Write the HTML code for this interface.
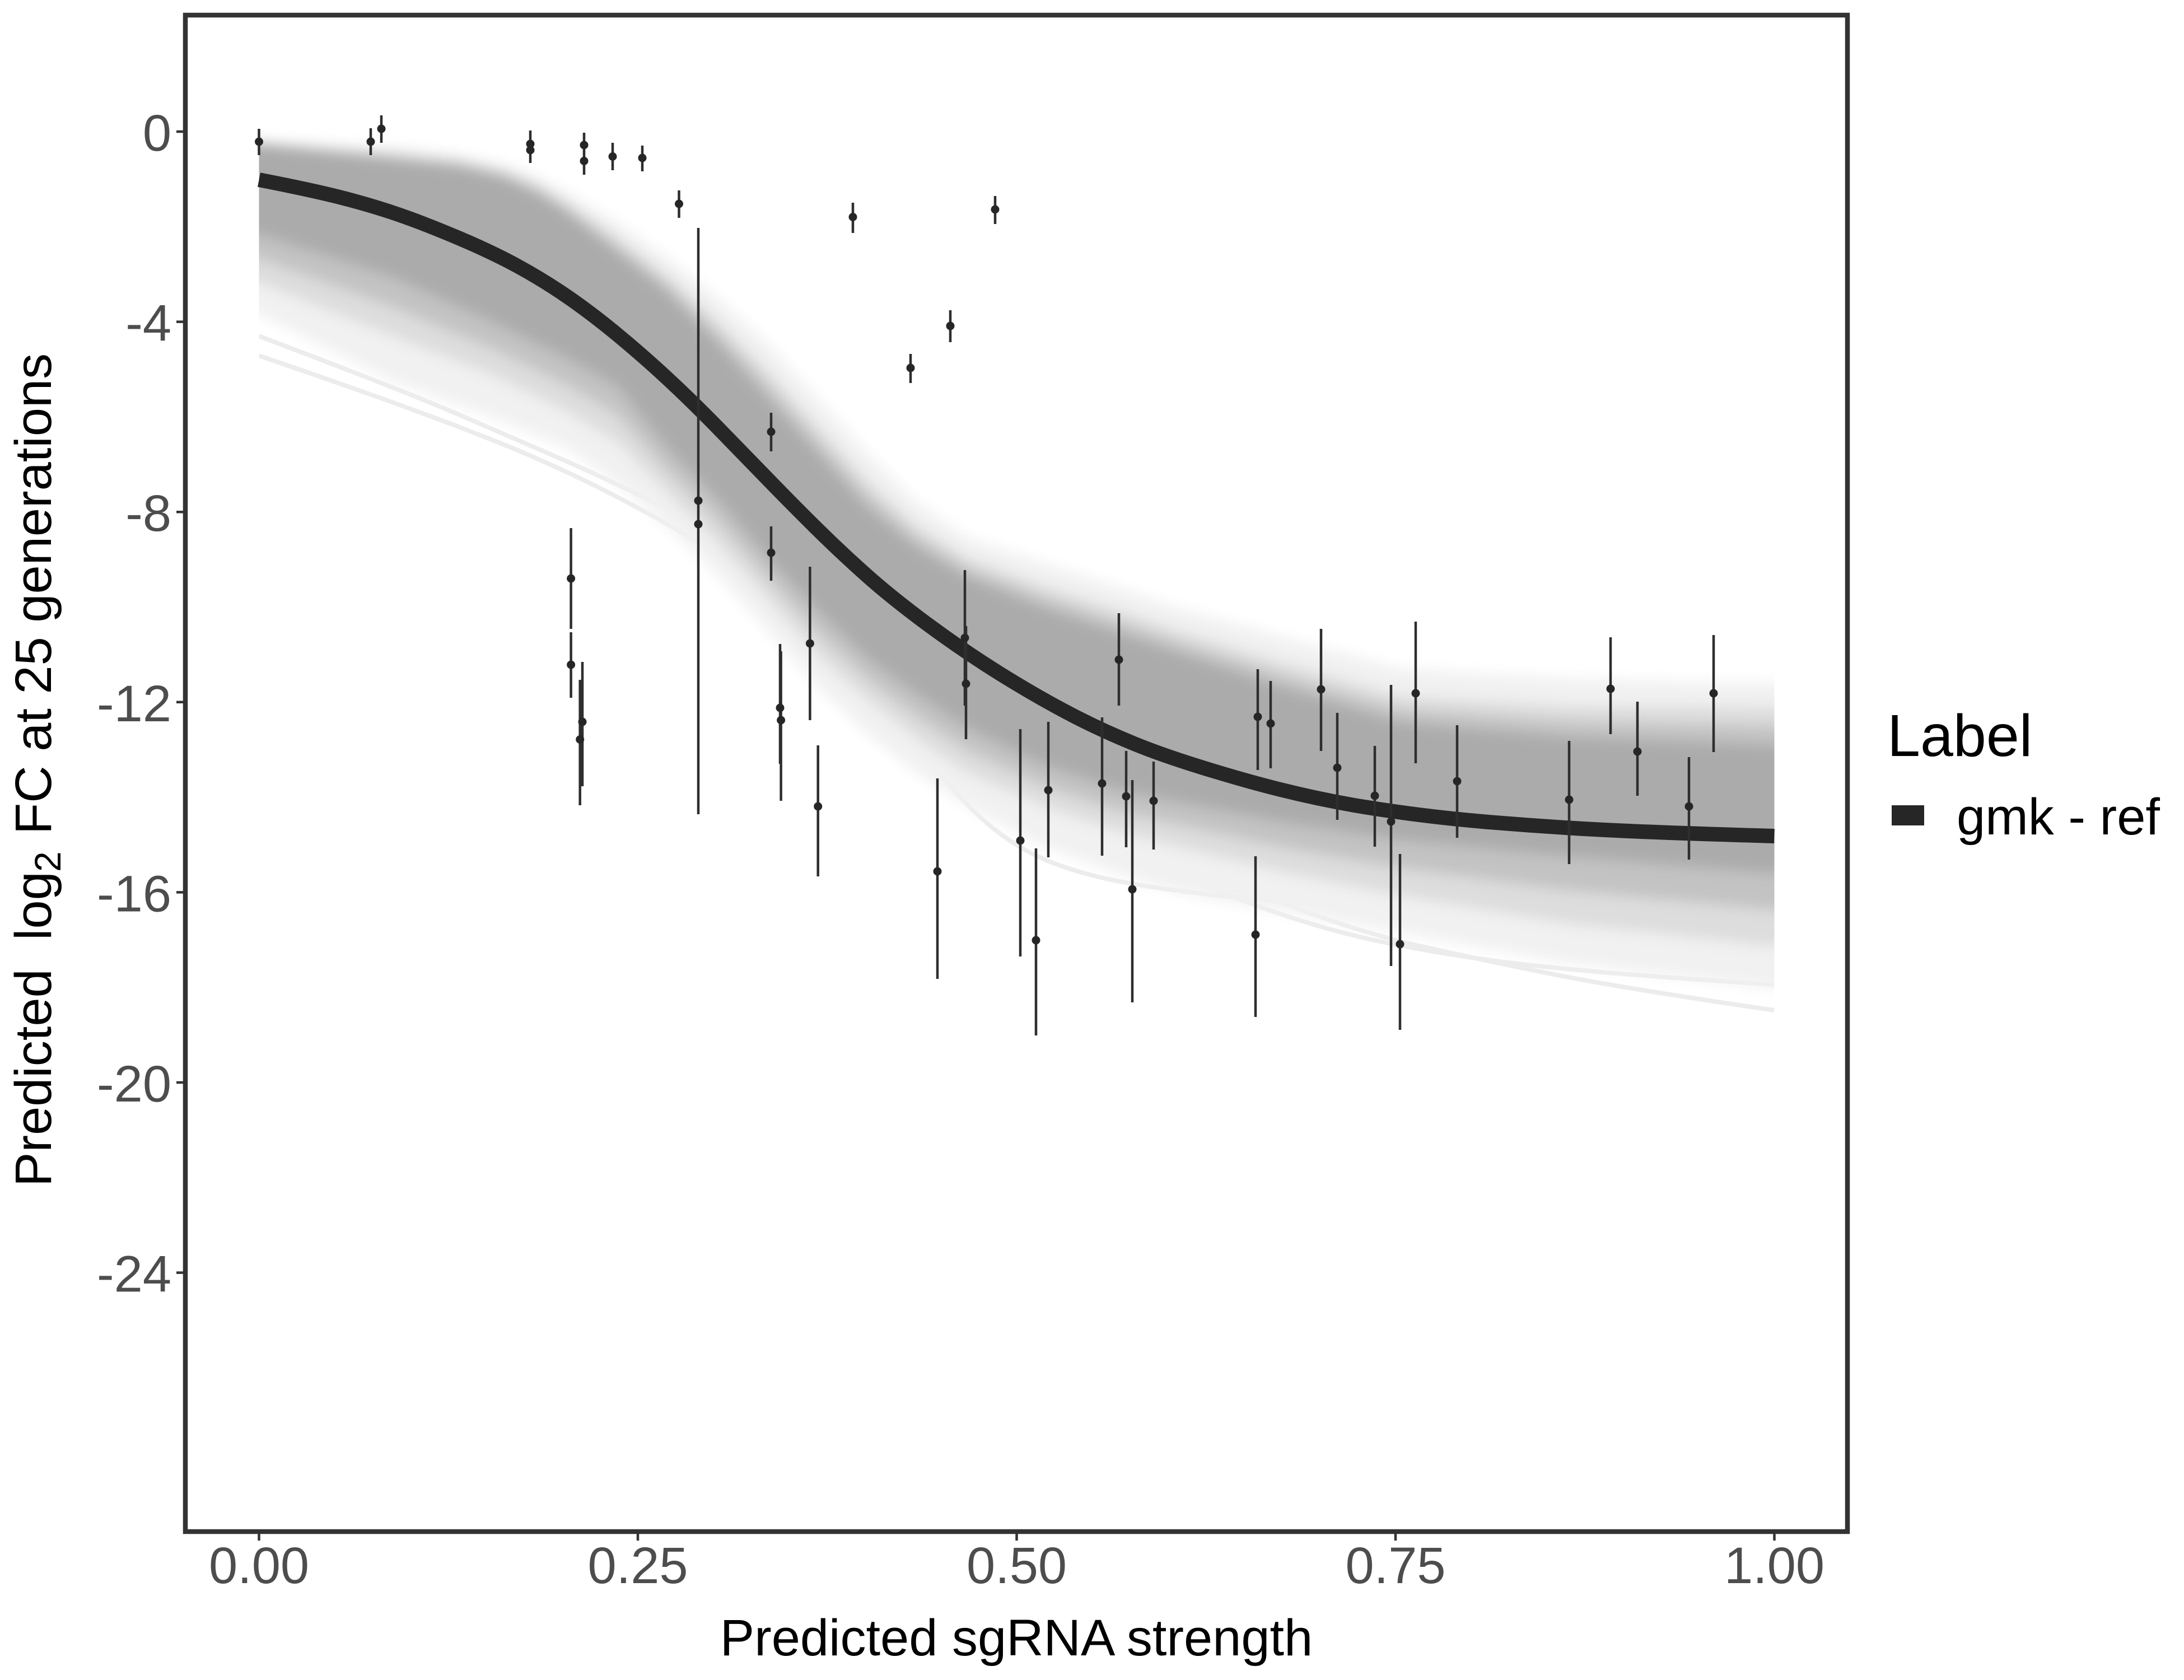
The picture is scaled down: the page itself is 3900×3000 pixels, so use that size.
<!DOCTYPE html>
<html>
<head>
<meta charset="utf-8">
<style>
  html, body { margin: 0; padding: 0; background: #ffffff; }
  svg { display: block; }
  text { font-family: "Liberation Sans", "DejaVu Sans", sans-serif; }
</style>
</head>
<body>
<svg xmlns="http://www.w3.org/2000/svg" width="3900" height="3000" viewBox="0 0 3900 3000">
  <rect x="0" y="0" width="3900" height="3000" fill="#ffffff"/>
  <defs>
    <clipPath id="bandclip"><rect x="462.5" y="27" width="2706" height="2708"/></clipPath>
    <filter id="soft" x="-5%" y="-5%" width="110%" height="110%">
      <feGaussianBlur stdDeviation="12"/>
    </filter>
  </defs>

  <g clip-path="url(#bandclip)">
    <g fill="none" stroke="#ECECEC" stroke-width="8" stroke-linejoin="round">
      <path d="M462,600 Q700,690 800,732 Q900,775 978,809 Q1057,843 1153,889 Q1250,935 1350,992 Q1450,1050 1550,1125 Q1650,1200 1750,1275 Q1850,1350 1950,1410 Q2050,1470 2175,1515 Q2300,1560 2450,1590 Q2600,1620 3168,1660"/>
      <path d="M1300,990 Q1450,1120 1499,1173 Q1548,1227 1599,1288 Q1650,1350 1710,1418 Q1771,1486 1835,1520 Q1900,1555 2000,1574 Q2100,1593 2250,1606 Q2400,1620 2525,1630 Q2650,1640 3168,1655"/>
      <path d="M462,635 Q800,750 950,815 Q1100,880 1250,970 Q1400,1060 1475,1120 Q1550,1180 1628,1250 Q1706,1320 1818,1397 Q1930,1474 2054,1522 Q2179,1570 2303,1617 Q2428,1665 2539,1690 Q2650,1715 2775,1740 Q2900,1765 3168,1804"/>
      <path d="M1700,1300 Q1900,1450 2000,1505 Q2100,1560 2200,1600 Q2300,1640 2400,1666 Q2500,1692 2650,1713 Q2800,1735 3168,1758"/>
    </g>
    <g filter="url(#soft)">
      <polygon fill="#F1F1F1" points="430,252 462,252 700,262 820,276 900,295 960,316 1012,343 1102,396 1191,459 1280,530 1370,611 1459,709 1548,807 1637,896 1727,959 1861,1004 1995,1048 2100,1084 2300,1140 2500,1194 2800,1212 3168,1220 3200,1220 3200,1765 3168,1765 2800,1720 2500,1665 2300,1630 2100,1593 1995,1560 1861,1510 1727,1440 1637,1380 1548,1310 1459,1225 1370,1125 1280,1025 1191,940 1102,862 1012,800 879,745 700,680 462,560 430,560"/>
      <polygon fill="#DDDDDD" points="430,254 462,254 700,272 820,285 900,303 960,328 1012,360 1102,423 1191,490 1280,570 1370,660 1459,758 1548,856 1637,937 1727,995 1861,1044 1995,1088 2100,1124 2300,1185 2500,1242 2800,1260 3168,1262 3200,1262 3200,1690 3168,1690 2800,1650 2500,1600 2300,1560 2100,1512 1995,1485 1861,1440 1727,1380 1637,1320 1548,1250 1459,1170 1370,1070 1280,970 1191,880 1102,790 1012,735 879,670 700,600 462,505 430,505"/>
      <polygon fill="#C3C3C3" points="430,255.5 462,255.5 700,278.5 820,291 900,310 960,337 1012,369.5 1102,436.5 1191,505.5 1280,590.5 1370,684.5 1459,782.5 1548,880.5 1637,957 1727,1012.5 1861,1064 1995,1108.5 2100,1144 2300,1207.5 2500,1266 2800,1287.5 3168,1296 3200,1296 3200,1625 3168,1625 2800,1590 2500,1550 2300,1515 2100,1472 1995,1447.5 1861,1402.5 1727,1340 1637,1280 1548,1212.5 1459,1130 1370,1032.5 1280,930 1191,840 1102,740 1012,687.5 879,622.5 700,547.5 462,461.5 430,461.5"/>
      <polygon fill="#ABABAB" points="430,257 462,257 700,285 820,298 900,318 960,346 1012,379 1102,450 1191,521 1280,611 1370,709 1459,807 1548,905 1637,977 1727,1030 1861,1084 1995,1129 2100,1164 2300,1230 2500,1290 2800,1315 3168,1330 3200,1330 3200,1560 3168,1560 2800,1530 2500,1500 2300,1470 2100,1432 1995,1410 1861,1365 1727,1300 1637,1240 1548,1175 1459,1090 1370,995 1280,890 1191,800 1102,690 1012,640 879,575 700,495 462,418 430,418"/>
    </g>
  </g>

  <path fill="none" stroke="#262626" stroke-width="26" stroke-linejoin="round" stroke-linecap="butt" d="M462.5,321 Q560,340 614,354 Q668,368 714,384 Q760,400 819,425 Q878,450 924,475 Q970,500 1013.5,530 Q1057,560 1103.5,598.5 Q1150,637 1193,677 Q1236,717 1280.5,762.5 Q1325,808 1369.5,854 Q1414,900 1457,942.5 Q1500,985 1546.5,1026.5 Q1593,1068 1658,1116 Q1723,1164 1786.5,1203.5 Q1850,1243 1909,1274 Q1968,1305 2034,1331.5 Q2100,1358 2215.5,1391 Q2331,1424 2436.5,1441 Q2542,1458 2647,1467 Q2752,1476 2856,1481.5 Q2960,1487 3168.5,1493"/>

  <path fill="none" stroke="#2E2E2E" stroke-width="4.5" d="M462.5,230V277 M662,229V277 M681,206V255 M947,233V291 M1043,237V312 M1094,255V304 M1147,260V306 M1212.5,340V389 M1247,407V1454 M1523,362V416 M1777,350V400 M1697,554V611 M1626,632V684 M1377,737V806 M1377,940V1037 M1019.6,943V1123 M1019.6,1129V1246 M1040,1182V1404 M1035.7,1214V1438 M1393,1150V1364 M1394.6,1163V1430 M1446.4,1012V1286 M1460.7,1331V1565 M1723,1018V1260 M1725,1118V1320 M1674,1390V1748 M1822,1302V1708 M1850,1515V1849 M1872,1289V1531 M1968,1281V1528 M1998,1095V1260 M2011,1341V1513 M2022,1393V1790 M2060,1360V1517 M2242,1529V1816 M2246,1195V1375 M2269,1216V1372 M2359,1123V1341 M2388,1273V1464 M2455,1332V1512 M2484,1223V1725 M2500,1525V1839 M2528,1110V1363 M2602,1295V1496 M2802,1323V1543 M2876,1138V1311 M2924,1253V1421 M3016,1352V1535 M3060,1134V1343"/>

  <path fill="none" stroke="#262626" stroke-width="15" stroke-linecap="round" d="M462.5,253h0 M662,253h0 M681,230h0 M947,257h0 M947,268h0 M1043,259h0 M1043,287.5h0 M1094,279.5h0 M1147,282h0 M1212.5,364h0 M1247,894h0 M1247,936h0 M1523,387.5h0 M1777,374h0 M1697,582h0 M1626,657h0 M1377,771h0 M1377,987h0 M1019.6,1033h0 M1019.6,1187h0 M1040,1289h0 M1035.7,1320.5h0 M1393,1264h0 M1394.6,1286h0 M1446.4,1149h0 M1460.7,1440h0 M1723,1139h0 M1725,1221h0 M1674,1556h0 M1822,1501h0 M1850,1679h0 M1872,1411h0 M1968,1399h0 M1998,1178h0 M2011,1422h0 M2022,1588h0 M2060,1430h0 M2242,1669h0 M2246,1280h0 M2269,1292h0 M2359,1231h0 M2388,1371h0 M2455,1421h0 M2484,1467h0 M2500,1686h0 M2528,1238h0 M2602,1395h0 M2802,1428h0 M2876,1230h0 M2924,1342h0 M3016,1440h0 M3060,1238h0"/>

  <rect x="331" y="27" width="2968" height="2708" fill="none" stroke="#333333" stroke-width="8.5"/>

  <path fill="none" stroke="#333333" stroke-width="4.5" d="M315,235H331 M315,574.6H331 M315,914.2H331 M315,1253.8H331 M315,1593.4H331 M315,1933H331 M315,2272.6H331 M462.5,2735V2751 M1139,2735V2751 M1815.5,2735V2751 M2492,2735V2751 M3168.5,2735V2751"/>

  <g font-size="92" fill="#4D4D4D" text-anchor="end">
    <text x="306" y="269">0</text>
    <text x="306" y="608.6">-4</text>
    <text x="306" y="948.2">-8</text>
    <text x="306" y="1287.8">-12</text>
    <text x="306" y="1627.4">-16</text>
    <text x="306" y="1967">-20</text>
    <text x="306" y="2306.6">-24</text>
  </g>

  <g font-size="92" fill="#4D4D4D" text-anchor="middle">
    <text x="462.5" y="2827">0.00</text>
    <text x="1139" y="2827">0.25</text>
    <text x="1815.5" y="2827">0.50</text>
    <text x="2492" y="2827">0.75</text>
    <text x="3168.5" y="2827">1.00</text>
  </g>

  <text x="1815" y="2956" font-size="92" fill="#000000" text-anchor="middle">Predicted sgRNA strength</text>

  <g fill="#000000">
    <text transform="translate(91,2119) rotate(-90)" font-size="92">Predicted</text>
    <text transform="translate(91,1679) rotate(-90)" font-size="92">log</text>
    <text transform="translate(108,1557) rotate(-90)" font-size="66">2</text>
    <text transform="translate(91,1490) rotate(-90)" font-size="92">FC at 25 generations</text>
  </g>

  <text x="3370" y="1350" font-size="106" fill="#000000">Label</text>
  <rect x="3378" y="1438" width="58" height="36" fill="#262626"/>
  <text x="3494" y="1490" font-size="92" fill="#000000">gmk - ref</text>
</svg>
</body>
</html>
